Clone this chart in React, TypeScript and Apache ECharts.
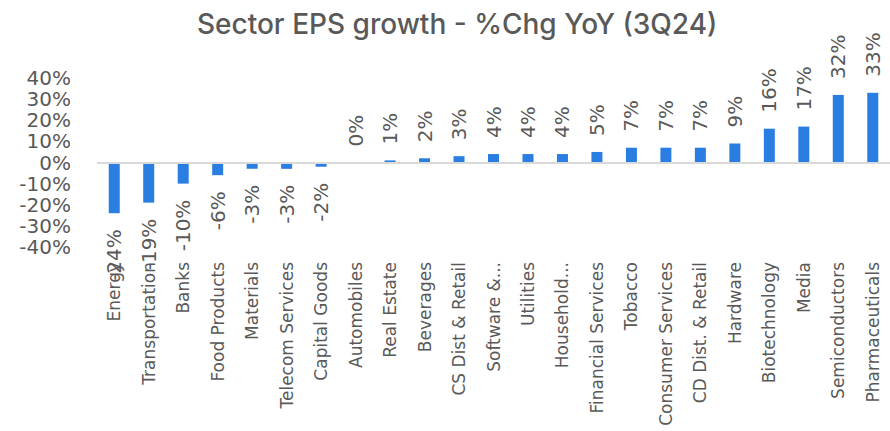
import React, { useEffect, useRef } from "react";
import * as echarts from "echarts";

const titleText = "Sector EPS growth - %Chg YoY (3Q24)";

const categories = [
  "Energy",
  "Transportation",
  "Banks",
  "Food Products",
  "Materials",
  "Telecom Services",
  "Capital Goods",
  "Automobiles",
  "Real Estate",
  "Beverages",
  "CS Dist & Retail",
  "Software &...",
  "Utilities",
  "Household...",
  "Financial Services",
  "Tobacco",
  "Consumer Services",
  "CD Dist. & Retail",
  "Hardware",
  "Biotechnology",
  "Media",
  "Semiconductors",
  "Pharmaceuticals",
];

const epsGrowth = [
  -24, -19, -10, -6, -3, -3, -2, 0, 1, 2, 3, 4, 4, 4, 5, 7, 7, 7, 9, 16, 17, 32, 33,
];

const yMin = -40;
const yMax = 40;
const yInterval = 10;

const TEXT = "#595959";
const BLUE = "#2a7de1";
const FONT = "DejaVu Sans";

export default function App() {
  const ref = useRef<HTMLDivElement>(null);

  useEffect(() => {
    if (!ref.current) return;
    const chart = echarts.init(ref.current, null, { renderer: "svg" });
    chart.setOption({
      animation: false,
      backgroundColor: "#ffffff",
      title: {
        text: titleText,
        left: 192,
        top: 5,
        textStyle: {
          fontFamily: "Inter",
          fontSize: 28,
          fontWeight: 500,
          color: TEXT,
        },
      },
      grid: { left: 97, right: -3, top: 78, bottom: 184, containLabel: false },
      xAxis: {
        type: "category",
        data: categories,
        position: "bottom",
        axisLine: { show: false },
        axisTick: { show: false },
        axisLabel: {
          rotate: 90,
          interval: 0,
          margin: 15,
          fontFamily: FONT,
          fontSize: 17,
          color: TEXT,
        },
      },
      yAxis: {
        type: "value",
        min: yMin,
        max: yMax,
        interval: yInterval,
        splitLine: { show: false },
        axisLine: { show: false },
        axisTick: { show: false },
        axisLabel: {
          formatter: "{value}%",
          margin: 26,
          fontFamily: FONT,
          fontSize: 20,
          lineHeight: 20,
          color: TEXT,
        },
      },
      series: [
        {
          type: "bar",
          data: epsGrowth.map((v) => ({
            value: v,
            label: {
              position: v < 0 ? "bottom" : "top",
              align: v < 0 ? "right" : "left",
            },
          })),
          barWidth: 11,
          itemStyle: { color: BLUE },
          label: {
            show: true,
            rotate: 90,
            distance: 16,
            verticalAlign: "middle",
            formatter: "{c}%",
            fontFamily: FONT,
            fontSize: 20,
            color: TEXT,
          },
          markLine: {
            silent: true,
            symbol: "none",
            label: { show: false },
            lineStyle: { color: "#d9d9d9", width: 2, type: "solid" },
            data: [{ yAxis: 0 }],
          },
        },
      ],
    });
    return () => chart.dispose();
  }, []);

  return (
    <div
      ref={ref}
      style={{ position: "absolute", left: 0, top: 0, width: 890, height: 431 }}
    />
  );
}
